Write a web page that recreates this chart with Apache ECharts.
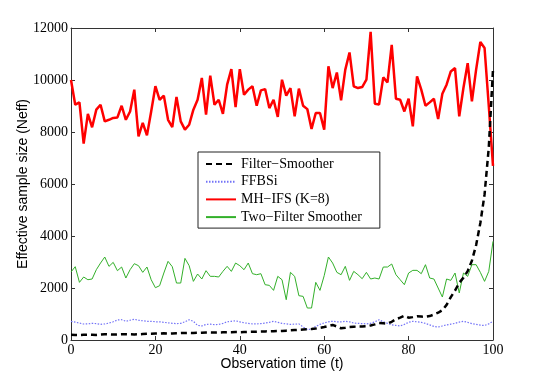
<!DOCTYPE html>
<html>
<head>
<meta charset="utf-8">
<script src="https://cdn.jsdelivr.net/npm/echarts@6/dist/echarts.min.js"></script>
<style>
  html, body { margin: 0; padding: 0; background: #fff; }
  #main { width: 545px; height: 382px; }
</style>
</head>
<body>
<div id="main"></div>
<script>
// observation times 0..100
var times = [];
for (var i = 0; i <= 100; i++) times.push(i);

var xTicks = [0, 20, 40, 60, 80, 100];
var yTicks = [0, 2000, 4000, 6000, 8000, 10000, 12000];

var seriesNames = ['Filter\u2212Smoother', 'FFBSi', 'MH\u2212IFS (K=8)', 'Two\u2212Filter Smoother'];

var filterSmoother = [
    200, 195, 190, 200, 205, 200, 195, 210, 220, 215, 210,
    215, 220, 225, 220, 215, 220, 230, 240, 245, 250,
    250, 255, 245, 250, 260, 265, 270, 275, 270, 275,
    280, 285, 290, 285, 290, 295, 300, 300, 305, 300,
    305, 310, 315, 320, 325, 330, 335, 340, 345, 350,
    360, 370, 380, 390, 400, 410, 420, 440, 470, 500,
    540, 580, 520, 450, 470, 500, 510, 520, 520, 530,
    560, 600, 650, 640, 630, 700, 800, 860, 930, 860,
    880, 910, 900, 890, 920, 980, 1050, 1150, 1350, 1650,
    1900, 2200, 2400, 2650, 3050, 3650, 4500, 5600, 7400, 10400
];

var ffbsi = [
    716, 690, 650, 615, 620, 640, 630, 600, 620, 650, 700,
    770, 780, 720, 760, 800, 760, 740, 720, 720, 700,
    700, 680, 660, 640, 630, 640, 700, 780, 720, 560,
    540, 600, 610, 590, 600, 640, 700, 720, 740, 700,
    660, 640, 620, 620, 630, 650, 680, 720, 680, 640,
    620, 600, 610, 620, 500, 400, 420, 520, 600, 660,
    700, 720, 700, 700, 720, 700, 650, 640, 630, 620,
    640, 700, 780, 700, 640, 580, 560, 540, 600, 680,
    720, 700, 680, 640, 580, 520, 500, 540, 580, 610,
    640, 690, 720, 680, 630, 600, 570, 560, 620, 720
];

var mhIfs = [
    10000, 9050, 9140, 7550, 8700, 8180, 8860, 9050, 8410, 8470, 8540,
    8560, 9010, 8470, 8790, 9630, 7830, 8350, 7870, 8790, 9760,
    9240, 9400, 8470, 8190, 9350, 8410, 8090, 8280, 8860, 9240,
    10080, 8670, 10170, 9050, 9240, 8700, 9820, 10420, 8960, 10420,
    9430, 9630, 9760, 9010, 9600, 9650, 8920, 9240, 8580, 10010,
    9400, 9690, 8600, 9670, 9010, 8880, 8120, 8730, 8730, 8090,
    10530, 9690, 10290, 9220, 10400, 11060, 9760, 9690, 9730, 10010,
    11850, 9090, 9060, 10100, 9910, 11350, 9280, 9240, 8790, 9280,
    8220, 10140, 9630, 9010, 9140, 9280, 8500, 9470, 9820, 10330,
    10460, 8600, 9700, 10650, 9180, 10400, 11460, 11230, 9000, 6700
];

var twoFilter = [
    2615, 2820, 2217, 2423, 2319, 2346, 2704, 2960, 3192, 2832, 2986,
    2666, 2807, 2384, 2704, 2935, 2858, 2602, 2807, 2319, 2012,
    2089, 2576, 3025, 2820, 2191, 2191, 3140, 2858, 2255, 2538,
    2346, 2666, 2448, 2448, 2423, 2640, 2833, 2640, 2960, 2858,
    2704, 2960, 2550, 2512, 2550, 2127, 2101, 1909, 2448, 2319,
    1550, 2602, 2448, 1704, 1678, 1230, 1230, 2217, 1909, 2474,
    3192, 2960, 2602, 2512, 2833, 2294, 2640, 2512, 2358, 2602,
    2346, 2384, 2346, 2807, 2807, 2923, 2512, 2319, 2127, 2576,
    2679, 2679, 2550, 2897, 2384, 2346, 2000, 1653, 2346, 2294,
    2576, 1808, 2576, 2448, 2897, 2897, 2602, 2255, 2640, 3794
];

function pairs(vals) {
    return times.map(function (t, k) { return [t, vals[k]]; });
}

var serif = 'Liberation Serif';
var sans = 'Liberation Sans';
var axisColor = '#333';

function plain(v) { return String(v); }

function boxAxis(pos, min, max, step) {
    return {
        type: 'value', position: pos, min: min, max: max, interval: step,
        axisLine: { show: true, onZero: false, lineStyle: { color: axisColor, width: 1 } },
        axisTick: { show: true, inside: true, length: 4, lineStyle: { color: axisColor } },
        axisLabel: { show: false },
        splitLine: { show: false }
    };
}

var myChart = echarts.init(document.getElementById('main'));
var option = {
    animation: false,
    backgroundColor: '#fff',
    grid: { left: 71, right: 52, top: 28, bottom: 42, outerBoundsMode: 'none', containLabel: false },
    legend: {
        data: seriesNames,
        orient: 'vertical',
        left: 198,
        top: 152,
        backgroundColor: '#fff',
        borderColor: '#222',
        borderWidth: 1,
        borderRadius: 0,
        padding: [5, 18, 4, 7],
        itemWidth: 30,
        itemHeight: 10,
        itemGap: 3.7,
        itemStyle: { opacity: 0 },
        textStyle: { fontFamily: serif, fontSize: 14, color: '#000', lineHeight: 14 }
    },
    xAxis: [{
        type: 'value', min: xTicks[0], max: xTicks[xTicks.length - 1],
        interval: xTicks[1] - xTicks[0],
        name: 'Observation time (t)',
        nameLocation: 'middle',
        nameGap: 17,
        nameMoveOverlap: false,
        nameTextStyle: { fontFamily: sans, fontSize: 14, color: '#000' },
        axisLine: { show: true, onZero: false, lineStyle: { color: axisColor, width: 1 } },
        axisTick: { show: true, inside: true, length: 4, lineStyle: { color: axisColor } },
        axisLabel: { margin: 3, fontFamily: serif, fontSize: 14, color: '#000', formatter: plain },
        splitLine: { show: false }
    }, boxAxis('top', xTicks[0], xTicks[xTicks.length - 1], xTicks[1] - xTicks[0])],
    yAxis: [{
        type: 'value', min: yTicks[0], max: yTicks[yTicks.length - 1],
        interval: yTicks[1] - yTicks[0],
        name: 'Effective sample size (Neff)',
        nameLocation: 'middle',
        nameGap: 41,
        nameMoveOverlap: false,
        nameTextStyle: { fontFamily: sans, fontSize: 14, color: '#000' },
        axisLine: { show: true, onZero: false, lineStyle: { color: axisColor, width: 1 } },
        axisTick: { show: true, inside: true, length: 4, lineStyle: { color: axisColor } },
        axisLabel: { margin: 3, fontFamily: serif, fontSize: 14, color: '#000', formatter: plain },
        splitLine: { show: false }
    }, boxAxis('right', yTicks[0], yTicks[yTicks.length - 1], yTicks[1] - yTicks[0])],
    series: [
        {
            name: seriesNames[0], type: 'line', symbol: 'none', data: pairs(filterSmoother),
            lineStyle: { color: '#000', width: 2.5, type: [6, 4] }, itemStyle: { color: '#000' }, z: 3
        },
        {
            name: seriesNames[1], type: 'line', symbol: 'none', data: pairs(ffbsi),
            lineStyle: { color: '#7373f7', width: 1.2, type: [1.5, 1.5] }, itemStyle: { color: '#7373f7' }, z: 2
        },
        {
            name: seriesNames[2], type: 'line', symbol: 'none', data: pairs(mhIfs),
            lineStyle: { color: '#ff0000', width: 2.5 }, itemStyle: { color: '#ff0000' }, z: 2
        },
        {
            name: seriesNames[3], type: 'line', symbol: 'none', data: pairs(twoFilter),
            lineStyle: { color: '#33b02a', width: 1 }, itemStyle: { color: '#33b02a' }, z: 2
        }
    ]
};
myChart.setOption(option);
</script>
</body>
</html>
